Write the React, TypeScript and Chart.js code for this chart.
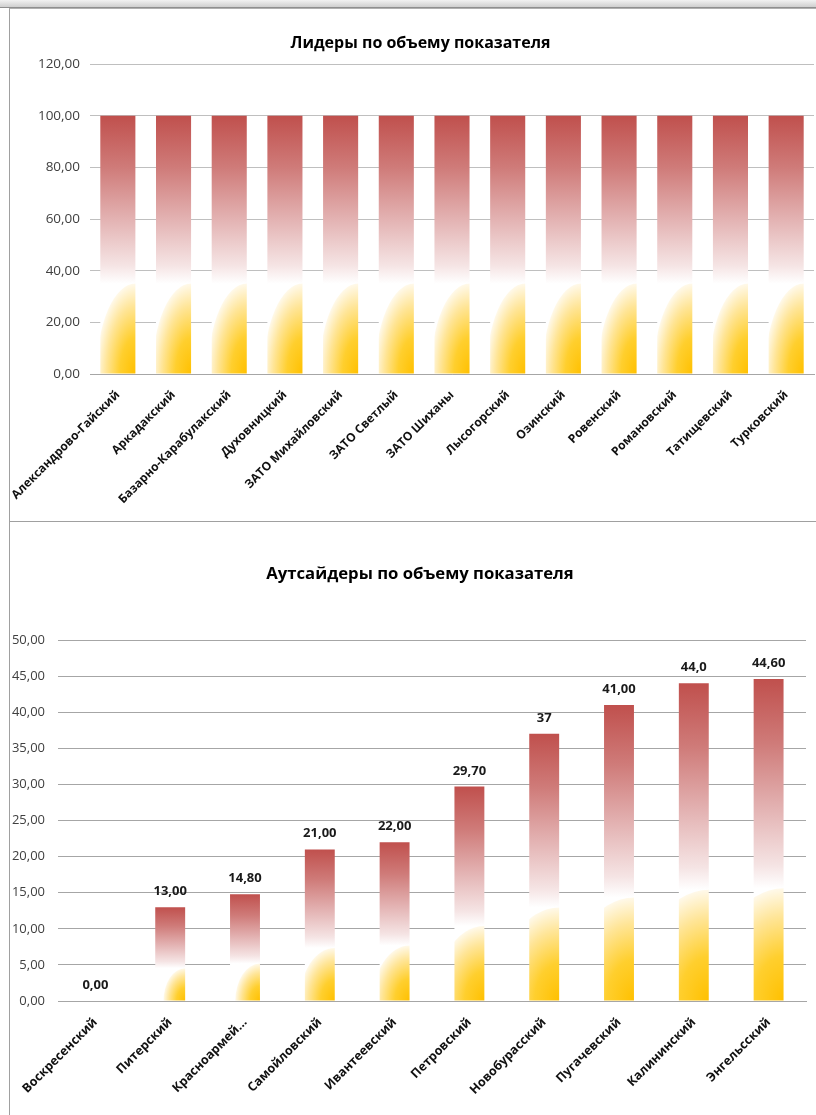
import React, { useEffect, useRef } from 'react';
import { Chart, registerables } from 'chart.js';

Chart.register(...registerables);

// ---------- data ----------
const leaderTitle = 'Лидеры по объему показателя';
const leaderCategories = [
  'Александрово-Гайский',
  'Аркадакский',
  'Базарно-Карабулакский',
  'Духовницкий',
  'ЗАТО Михайловский',
  'ЗАТО Светлый',
  'ЗАТО Шиханы',
  'Лысогорский',
  'Озинский',
  'Ровенский',
  'Романовский',
  'Татищевский',
  'Турковский',
];
const leaderValues = [100, 100, 100, 100, 100, 100, 100, 100, 100, 100, 100, 100, 100];
const leaderAxisMax = 120;
const leaderAxisStep = 20;

const outsiderTitle = 'Аутсайдеры по объему показателя';
const outsiderCategories = [
  'Воскресенский',
  'Питерский',
  'Красноармей...',
  'Самойловский',
  'Ивантеевский',
  'Петровский',
  'Новобурасский',
  'Пугачевский',
  'Калининский',
  'Энгельсский',
];
const outsiderValues = [0, 13, 14.8, 21, 22, 29.7, 37, 41, 44, 44.6];
const outsiderValueLabels = ['0,00', '13,00', '14,80', '21,00', '22,00', '29,70', '37', '41,00', '44,0', '44,60'];
const outsiderAxisMax = 50;
const outsiderAxisStep = 5;

// ---------- styling helpers ----------
const FONT = "'Open Sans', 'Noto Sans', sans-serif";
const RED_STOPS: [number, string][] = [
  [0.35, '#FFFFFF'],
  [0.42, '#F5E4E4'],
  [0.6, '#E3B2B2'],
  [0.8, '#CF7B79'],
  [1, '#C0504D'],
];
const YELLOW_STOPS: [number, string][] = [
  [0, '#FFC000'],
  [0.4, '#FFCF2E'],
  [0.75, '#FFE597'],
  [1, '#FFF9EA'],
];

function firePattern(
  ctx: CanvasRenderingContext2D,
  left: number,
  top: number,
  w: number,
  h: number,
  k: number,
  pinkCorner: boolean
) {
  const L = Math.floor(left);
  const T = Math.floor(top);
  const W = Math.max(2, Math.ceil(left + w) - L + 1);
  const H = Math.max(2, Math.ceil(top + h) - T + 1);
  const off = document.createElement('canvas');
  off.width = W;
  off.height = H;
  const c = off.getContext('2d')!;
  const bw = left + w - L; // right edge of bar in offscreen coords
  const bh = top + h - T; // bottom edge of bar in offscreen coords
  const lin = c.createLinearGradient(0, bh, 0, bh - h);
  if (pinkCorner) {
    lin.addColorStop(0, '#E0AEBA');
    lin.addColorStop(0.035, '#FFFFFF');
  } else {
    lin.addColorStop(0, '#FFFFFF');
  }
  RED_STOPS.forEach(([o, col]) => lin.addColorStop(o, col));
  c.fillStyle = lin;
  c.fillRect(0, 0, W, H);
  const ry = h * 0.35;
  const rx = ry * k;
  c.save();
  c.beginPath();
  c.ellipse(bw, bh, rx, ry, 0, 0, Math.PI * 2);
  c.clip();
  c.setTransform(rx, 0, 0, ry, bw, bh);
  const rad = c.createRadialGradient(0, 0, 0, 0, 0, 1);
  YELLOW_STOPS.forEach(([o, col]) => rad.addColorStop(o, col));
  c.fillStyle = rad;
  c.fillRect(-1.2, -1.2, 1.4, 1.4);
  c.restore();
  const p = ctx.createPattern(off, 'no-repeat')!;
  p.setTransform(new DOMMatrix([1, 0, 0, 1, L, T]));
  return p;
}

function barFill(barPct: number, k: number, pinkCorner: boolean) {
  return (context: any) => {
    const chart = context.chart;
    if (!chart.chartArea || context.type !== 'data') return '#FFC000';
    const xs = chart.scales.x;
    const ys = chart.scales.y;
    const n = chart.data.labels.length;
    const w = (xs.width / n) * barPct;
    const cx = xs.getPixelForValue(context.dataIndex);
    const v = context.raw as number;
    const top = ys.getPixelForValue(v);
    const base = ys.getPixelForValue(0);
    const h = base - top;
    if (h <= 0.5) return 'rgba(0,0,0,0)';
    return firePattern(chart.ctx, cx - w / 2, top, w, h, k, pinkCorner);
  };
}

const fmt = (v: number) => v.toFixed(2).replace('.', ',');

const valueLabelPlugin = {
  id: 'valueLabels',
  afterDatasetsDraw(chart: any, _args: any, opts: any) {
    const labels: string[] | undefined = opts && opts.labels;
    if (!labels) return;
    const meta = chart.getDatasetMeta(0);
    const ctx = chart.ctx as CanvasRenderingContext2D;
    ctx.save();
    ctx.font = `bold 13px ${FONT}`;
    ctx.fillStyle = '#1a1a1a';
    ctx.textAlign = 'center';
    ctx.textBaseline = 'alphabetic';
    meta.data.forEach((el: any, i: number) => {
      ctx.fillText(labels[i], el.x, el.y - 12);
    });
    ctx.restore();
  },
};

const fixedTitlePlugin = {
  id: 'fixedTitle',
  afterDraw(chart: any, _args: any, opts: any) {
    if (!opts || !opts.text) return;
    const ctx = chart.ctx as CanvasRenderingContext2D;
    ctx.save();
    ctx.font = `bold ${opts.size}px ${FONT}`;
    ctx.fillStyle = '#000000';
    ctx.textAlign = 'center';
    ctx.textBaseline = 'middle';
    ctx.fillText(opts.text, opts.x, opts.y);
    ctx.restore();
  },
};

type Cfg = {
  title: string;
  titleSize: number;
  titleX: number;
  titleY: number;
  labels: string[];
  values: number[];
  max: number;
  step: number;
  barPct: number;
  ellipseK: number;
  pinkCorner: boolean;
  padLeft: number;
  padRight: number;
  padTop: number;
  yWidth: number;
  yPad: number;
  yFont: number;
  xHeight: number;
  xFont: number;
  xPad: number;
  gridColor: string;
  valueLabels?: string[];
};

function BarChart({ cfg, width, height, style }: { cfg: Cfg; width: number; height: number; style: React.CSSProperties }) {
  const ref = useRef<HTMLCanvasElement | null>(null);
  useEffect(() => {
    if (!ref.current) return;
    const chart = new Chart(ref.current, {
      type: 'bar',
      data: {
        labels: cfg.labels,
        datasets: [
          {
            data: cfg.values,
            backgroundColor: barFill(cfg.barPct, cfg.ellipseK, cfg.pinkCorner) as any,
            borderWidth: 0,
            categoryPercentage: 1,
            barPercentage: cfg.barPct,
          },
        ],
      },
      plugins: [valueLabelPlugin as any, fixedTitlePlugin as any],
      options: {
        animation: false,
        responsive: false,
        devicePixelRatio: 1,
        layout: { padding: { left: cfg.padLeft, right: cfg.padRight, top: cfg.padTop, bottom: 0 } },
        plugins: {
          legend: { display: false },
          tooltip: { enabled: false },
          title: { display: false },
          valueLabels: { labels: cfg.valueLabels },
          fixedTitle: { text: cfg.title, size: cfg.titleSize, x: cfg.titleX, y: cfg.titleY },
        } as any,
        scales: {
          x: {
            offset: true,
            grid: { display: false, drawTicks: false },
            border: { display: true, color: '#A6A6A6', width: 1 },
            ticks: {
              autoSkip: false,
              minRotation: 45,
              maxRotation: 45,
              padding: cfg.xPad,
              color: '#111111',
              font: { family: FONT, size: cfg.xFont, weight: 'bold' },
            },
            afterFit: (s: any) => {
              s.height = cfg.xHeight;
              s.paddingLeft = 0;
              s.paddingRight = 0;
            },
          },
          y: {
            min: 0,
            max: cfg.max,
            grid: { color: cfg.gridColor, lineWidth: 1, drawTicks: false },
            border: { display: false },
            ticks: {
              stepSize: cfg.step,
              padding: cfg.yPad,
              color: '#404040',
              font: { family: FONT, size: cfg.yFont },
              callback: (v: any) => fmt(Number(v)),
            },
            afterFit: (s: any) => {
              s.width = cfg.yWidth;
            },
          },
        },
      },
    });
    return () => chart.destroy();
  }, [cfg]);
  return <canvas ref={ref} width={width} height={height} style={{ position: 'absolute', width, height, ...style }} />;
}

const leaderCfg: Cfg = {
  title: leaderTitle,
  titleSize: 16,
  titleX: 410.5,
  titleY: 34.6,
  labels: leaderCategories,
  values: leaderValues,
  max: leaderAxisMax,
  step: leaderAxisStep,
  barPct: 0.63,
  ellipseK: 0.43,
  pinkCorner: true,
  padLeft: 14,
  padRight: 2,
  padTop: 55,
  yWidth: 66,
  yPad: 10,
  yFont: 13.5,
  xHeight: 147,
  xFont: 12,
  xPad: 14,
  gridColor: '#BFBFBF',
};

const outsiderCfg: Cfg = {
  title: outsiderTitle,
  titleSize: 16.7,
  titleX: 410,
  titleY: 52,
  labels: outsiderCategories,
  values: outsiderValues,
  max: outsiderAxisMax,
  step: outsiderAxisStep,
  barPct: 0.4,
  ellipseK: 0.66,
  pinkCorner: false,
  padLeft: 0,
  padRight: 10,
  padTop: 118,
  yWidth: 48,
  yPad: 13,
  yFont: 13,
  xHeight: 114,
  xFont: 12.5,
  xPad: 14,
  gridColor: '#A6A6A6',
  valueLabels: outsiderValueLabels,
};

export default function App() {
  return (
    <div style={{ position: 'fixed', left: 0, top: 0, width: 816, height: 1115, overflow: 'hidden', background: '#ffffff' }}>
      <div
        style={{
          position: 'absolute',
          left: 0,
          top: 0,
          width: 816,
          height: 7,
          background: 'linear-gradient(to bottom, #f2f2f2, #cfcfcf)',
          borderBottom: '1px solid #8f8f8f',
        }}
      />
      <div
        style={{
          position: 'absolute',
          left: 9,
          top: 8,
          width: 820,
          height: 512,
          borderLeft: '1px solid #A0A0A0',
          borderTop: '1px solid #B0B0B0',
          borderBottom: '1px solid #A0A0A0',
        }}
      />
      <div
        style={{
          position: 'absolute',
          left: 9,
          top: 522,
          width: 820,
          height: 600,
          borderLeft: '1px solid #A0A0A0',
        }}
      />
      <BarChart cfg={leaderCfg} width={806} height={512} style={{ left: 10, top: 9 }} />
      <BarChart cfg={outsiderCfg} width={806} height={593} style={{ left: 10, top: 522 }} />
    </div>
  );
}
